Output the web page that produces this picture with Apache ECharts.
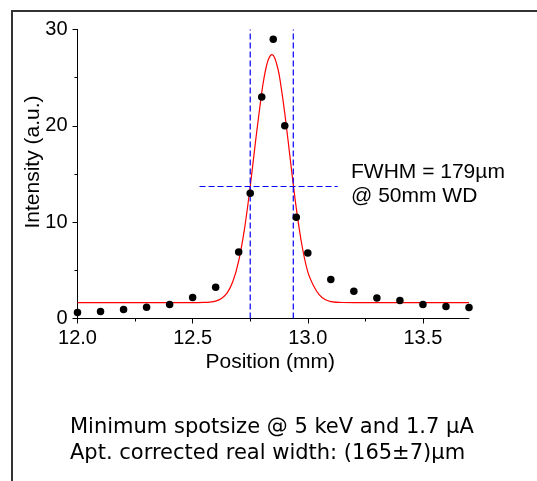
<!DOCTYPE html>
<html>
<head>
<meta charset="utf-8">
<script src="https://cdn.jsdelivr.net/npm/echarts@6/dist/echarts.min.js"></script>
<style>
  html, body { margin: 0; padding: 0; background: #ffffff; }
  #chart { width: 537px; height: 481px; }
</style>
</head>
<body>
<div id="chart"></div>
<script>
// Measured scan points: position (mm) and intensity (a.u.)
const scanX = [12.0, 12.1, 12.2, 12.3, 12.4, 12.5, 12.6, 12.7, 12.75, 12.8, 12.85, 12.9, 12.95, 13.0, 13.1, 13.2, 13.3, 13.4, 13.5, 13.6, 13.7];
const scanY = [0.62, 0.73, 0.93, 1.17, 1.45, 2.18, 3.25, 6.9, 13.0, 23.0, 29.0, 20.0, 10.5, 6.8, 4.05, 2.83, 2.14, 1.87, 1.45, 1.25, 1.14];

// Fitted peak curve
const fitX = [12.0, 12.5, 12.55, 12.575, 12.6, 12.625, 12.65, 12.675, 12.7, 12.725, 12.75, 12.775, 12.8, 12.81, 12.82, 12.83, 12.844, 12.855, 12.87, 12.88, 12.9, 12.925, 12.95, 12.975, 13.0, 13.025, 13.05, 13.075, 13.1, 13.15, 13.2, 13.7];
const fitY = [1.65, 1.65, 1.67, 1.70, 1.80, 2.07, 2.66, 3.86, 5.99, 9.28, 13.70, 18.76, 23.45, 24.97, 26.16, 26.97, 27.40, 27.13, 25.95, 24.69, 21.32, 16.31, 11.46, 7.55, 4.84, 3.40, 2.45, 1.98, 1.76, 1.66, 1.65, 1.65];

// FWHM guide lines
const fwhmEdgesX = [12.75, 12.937];
const guideYRange = [0, 30];
const halfMaxY = 13.7;
const halfMaxXRange = [12.53, 13.13];

// Axis ticks
const xMajorTicks = [12.0, 12.5, 13.0, 13.5];
const xMinorTicks = [12.25, 12.75, 13.25];

const annotationText = ['FWHM = 179µm', '@ 50mm WD'];
const captionText = ['Minimum spotsize @ 5 keV and 1.7 µA', 'Apt. corrected real width: (165±7)µm'];

const zip = (xs, ys) => xs.map((x, i) => [x, ys[i]]);
const axisFont = '"Liberation Sans", Arial, Helvetica, sans-serif';

const chart = echarts.init(document.getElementById('chart'), null, { renderer: 'canvas' });

const guideStyle = { color: '#0000ff', width: 1.2, type: [6, 3] };

const series = [
  {
    type: 'line',
    data: zip(fitX, fitY),
    smooth: 0.3,
    symbol: 'none',
    lineStyle: { color: '#ff0000', width: 1.2 },
    z: 2
  },
  {
    type: 'line',
    data: [[fwhmEdgesX[0], guideYRange[0]], [fwhmEdgesX[0], guideYRange[1]]],
    symbol: 'none',
    lineStyle: guideStyle,
    z: 3
  },
  {
    type: 'line',
    data: [[fwhmEdgesX[1], guideYRange[0]], [fwhmEdgesX[1], guideYRange[1]]],
    symbol: 'none',
    lineStyle: guideStyle,
    z: 3
  },
  {
    type: 'line',
    data: [[halfMaxXRange[0], halfMaxY], [halfMaxXRange[1], halfMaxY]],
    symbol: 'none',
    lineStyle: guideStyle,
    z: 3
  },
  {
    type: 'scatter',
    data: zip(scanX, scanY),
    symbol: 'circle',
    symbolSize: 7.5,
    itemStyle: { color: '#000000', opacity: 1 },
    z: 5
  }
];

const option = {
  animation: false,
  backgroundColor: '#ffffff',
  grid: {
    left: 77.5,
    top: 29.5,
    width: 391.5,
    height: 289,
    outerBoundsMode: 'none',
    containLabel: false
  },
  xAxis: [
    {
      type: 'value',
      min: 12.0,
      max: 13.7,
      position: 'bottom',
      name: 'Position (mm)',
      nameLocation: 'middle',
      nameGap: 33,
      nameMoveOverlap: false,
      nameTextStyle: { fontFamily: axisFont, fontSize: 21, color: '#000', padding: [0, 6, 0, 0] },
      axisLine: { show: true, lineStyle: { color: '#000', width: 1 } },
      axisTick: { show: true, inside: false, length: 5, customValues: xMajorTicks, lineStyle: { color: '#000' } },
      axisLabel: {
        show: true, customValues: xMajorTicks, margin: 10,
        fontFamily: axisFont, fontSize: 20, color: '#000',
        formatter: v => Number(v).toFixed(1)
      },
      splitLine: { show: false }
    },
    {
      type: 'value',
      min: 12.0,
      max: 13.7,
      position: 'bottom',
      axisLine: { show: false },
      axisTick: { show: true, inside: false, length: 3, customValues: xMinorTicks, lineStyle: { color: '#000' } },
      axisLabel: { show: false },
      splitLine: { show: false }
    }
  ],
  yAxis: {
    type: 'value',
    min: 0,
    max: 30,
    interval: 10,
    name: 'Intensity (a.u.)',
    nameLocation: 'middle',
    nameRotate: 90,
    nameGap: 34,
    nameMoveOverlap: false,
    nameTextStyle: { fontFamily: axisFont, fontSize: 21, color: '#000', padding: [0, 0, 0, 24] },
    axisLine: { show: true, lineStyle: { color: '#000', width: 1 } },
    axisTick: { show: true, inside: false, length: 5, lineStyle: { color: '#000' } },
    minorTick: { show: true, splitNumber: 2, length: 3, lineStyle: { color: '#000' } },
    axisLabel: { margin: 10, fontFamily: axisFont, fontSize: 20, color: '#000' },
    splitLine: { show: false },
    minorSplitLine: { show: false }
  },
  series: series,
  graphic: [
    {
      type: 'line',
      shape: { x1: 11, y1: 11, x2: 537, y2: 11 },
      style: { stroke: '#333', lineWidth: 2 },
      silent: true
    },
    {
      type: 'line',
      shape: { x1: 12, y1: 10, x2: 12, y2: 481 },
      style: { stroke: '#333', lineWidth: 2 },
      silent: true
    },
    {
      type: 'text',
      left: 351,
      top: 160,
      style: {
        text: annotationText.join('\n'),
        font: '21px "Liberation Sans", Arial, sans-serif',
        fill: '#000',
        lineHeight: 24
      },
      silent: true
    },
    {
      type: 'text',
      left: 70,
      top: 415,
      style: {
        text: captionText.join('\n'),
        font: '21px "DejaVu Sans", Verdana, sans-serif',
        fill: '#000',
        lineHeight: 25.5
      },
      silent: true
    }
  ]
};

chart.setOption(option);
</script>
</body>
</html>
